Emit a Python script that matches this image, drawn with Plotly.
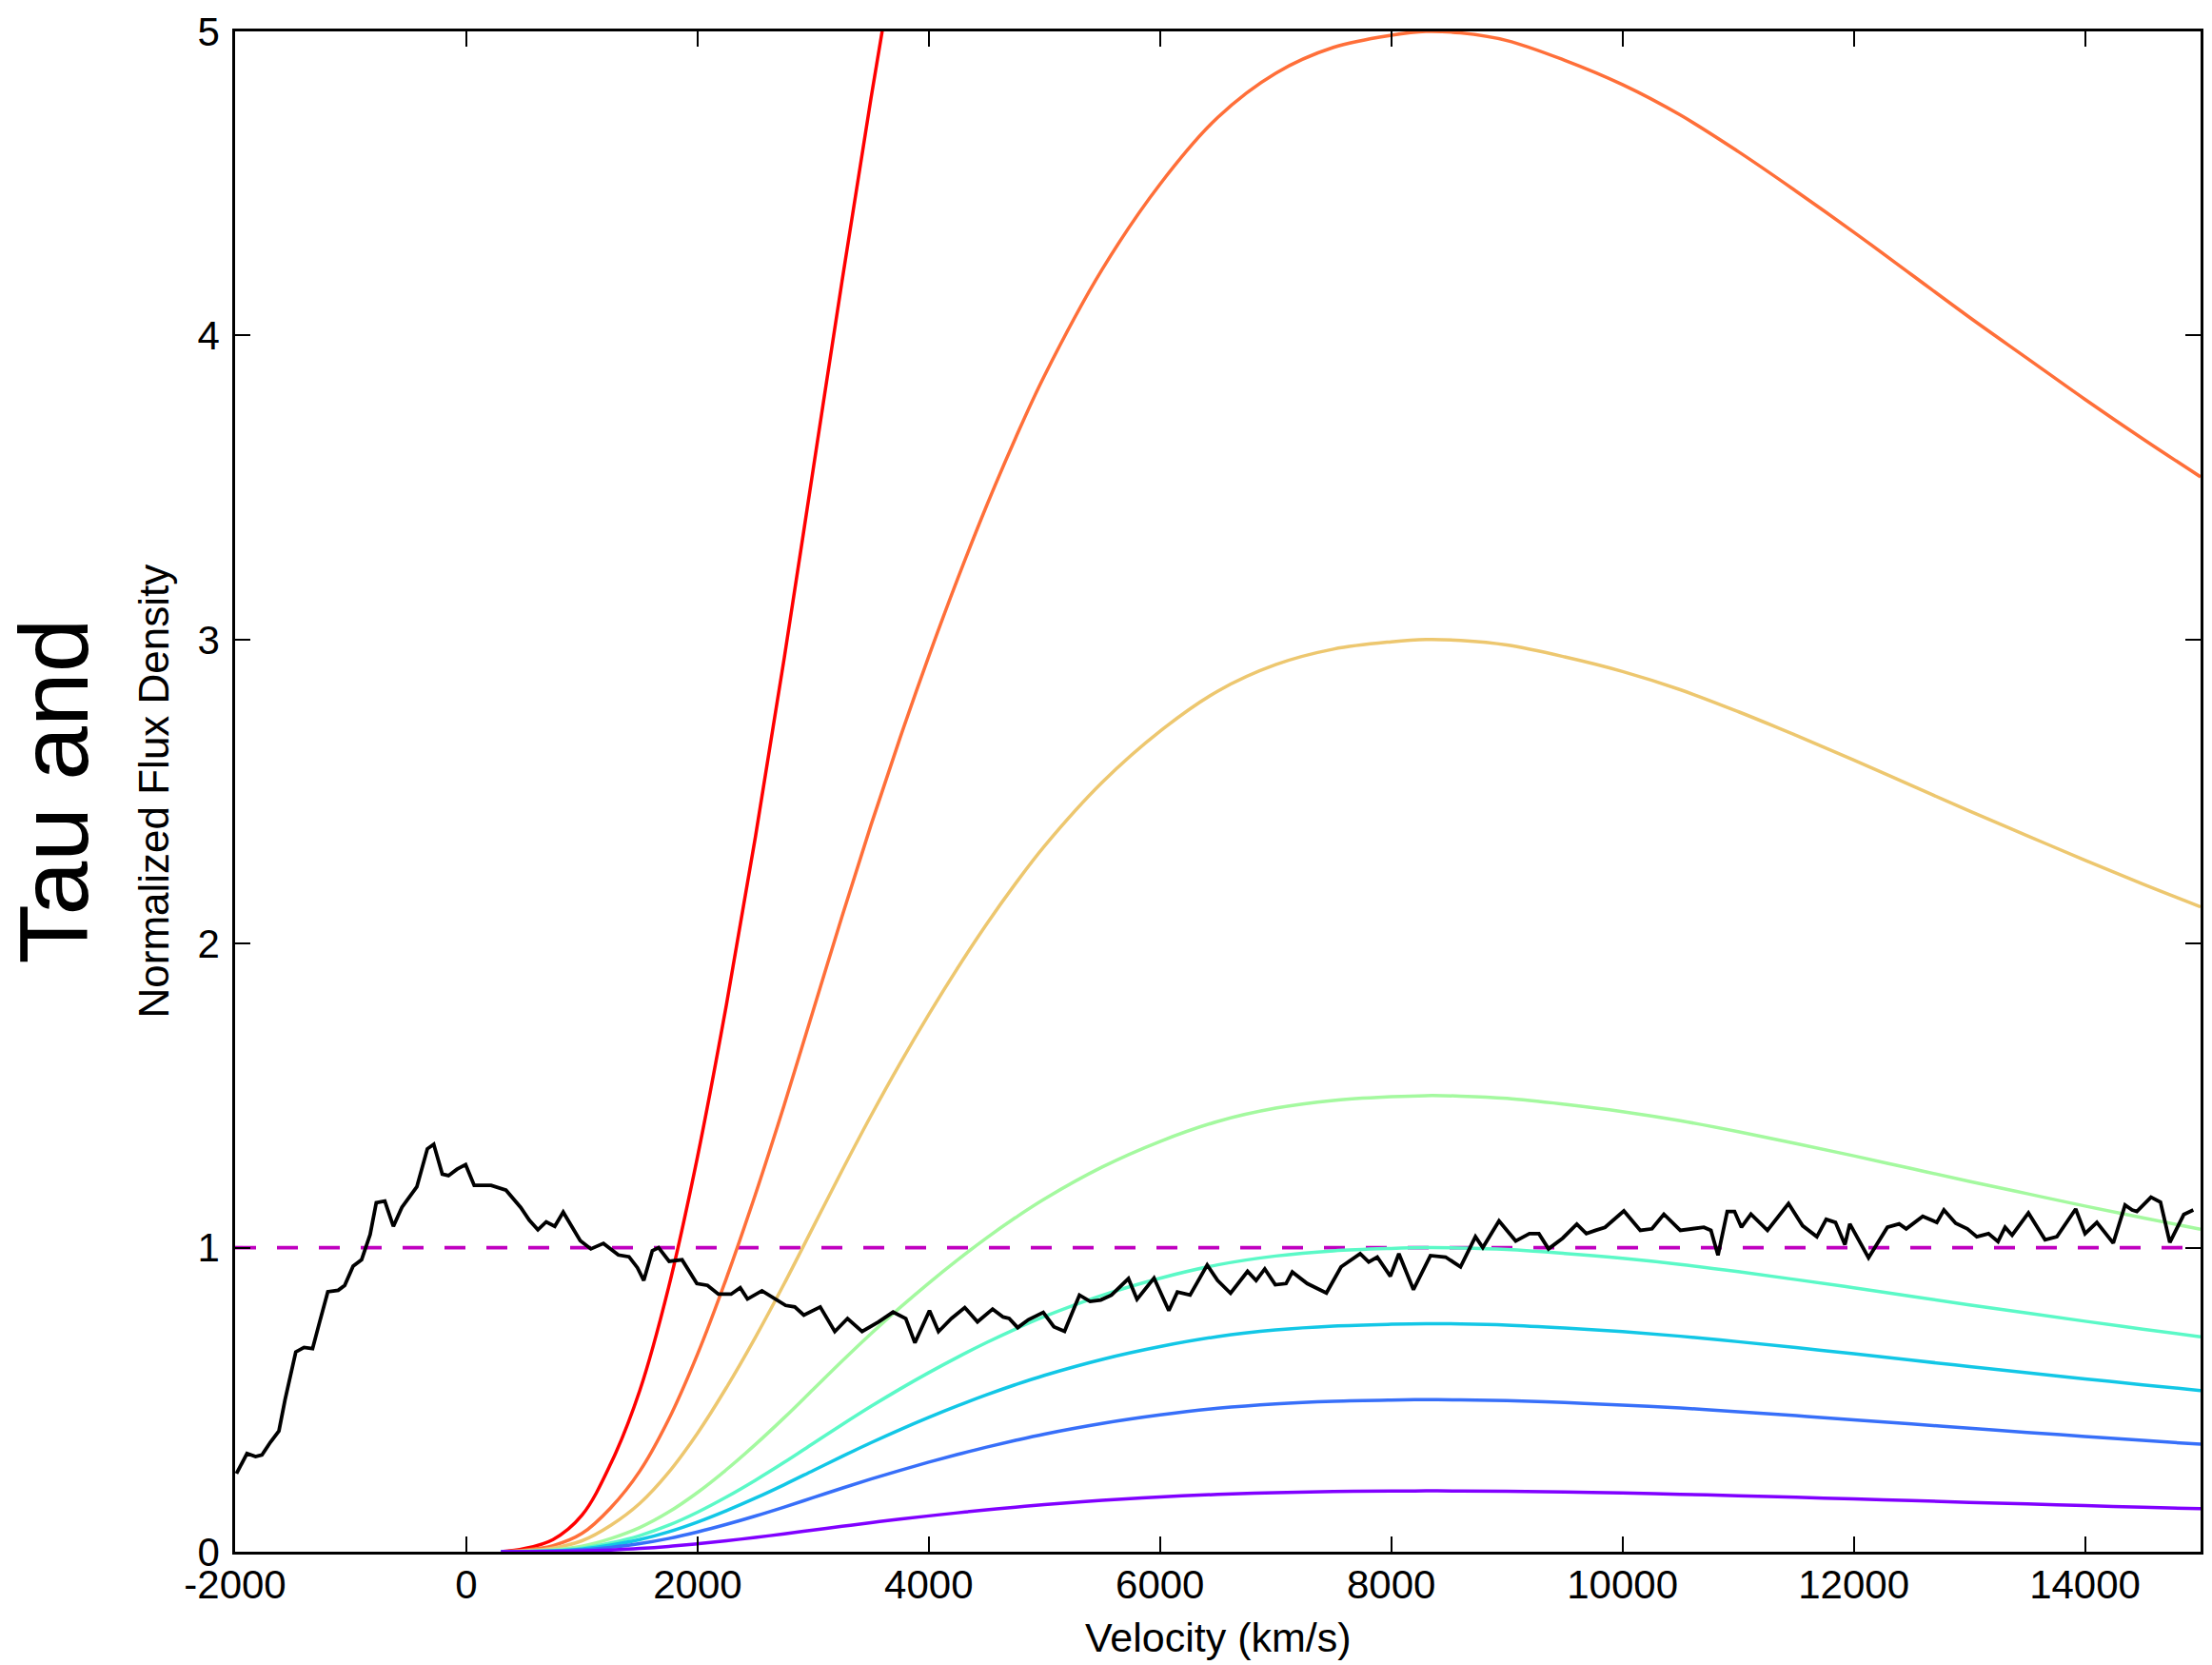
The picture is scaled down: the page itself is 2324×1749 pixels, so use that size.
import plotly.graph_objects as go

# ---------------- data ----------------
spectrum_velocity = [
    -1988, -1897, -1823, -1768, -1695, -1621, -1568, -1475, -1404, -1330,
    -1272, -1198, -1108, -1052, -979, -906, -832, -779, -705, -631,
    -557, -428, -337, -282, -208, -154, -80, -6, 68, 214,
    343, 471, 545, 619, 691, 765, 838, 911, 985, 1077,
    1186, 1315, 1407, 1480, 1535, 1609, 1663, 1754, 1866, 1994,
    2086, 2180, 2290, 2369, 2432, 2557, 2668, 2762, 2841, 2919,
    3061, 3187, 3297, 3423, 3565, 3691, 3801, 3880, 4006, 4084,
    4196, 4311, 4421, 4552, 4643, 4695, 4769, 4861, 4990, 5082,
    5174, 5303, 5395, 5487, 5580, 5727, 5801, 5948, 6076, 6150,
    6260, 6408, 6498, 6610, 6757, 6831, 6906, 6997, 7090, 7144,
    7273, 7439, 7566, 7731, 7805, 7879, 7992, 8066, 8192, 8339,
    8470, 8599, 8728, 8792, 8932, 9076, 9195, 9277, 9360, 9482,
    9605, 9687, 9768, 9849, 10012, 10154, 10255, 10358, 10500, 10601,
    10704, 10765, 10826, 10906, 10969, 11029, 11111, 11254, 11436, 11558,
    11681, 11762, 11842, 11924, 11966, 12128, 12291, 12393, 12454, 12597,
    12719, 12780, 12882, 12983, 13065, 13166, 13248, 13309, 13370, 13511,
    13655, 13757, 13920, 14001, 14103, 14245, 14347, 14408, 14449, 14571,
    14653, 14734, 14855, 14937,
]
spectrum_flux = [
    0.257, 0.323, 0.313, 0.318, 0.360, 0.397, 0.500, 0.657, 0.672, 0.668,
    0.751, 0.855, 0.860, 0.876, 0.939, 0.960, 1.043, 1.148, 1.153, 1.070,
    1.133, 1.200, 1.325, 1.340, 1.242, 1.237, 1.258, 1.273, 1.205, 1.205,
    1.189, 1.132, 1.090, 1.059, 1.085, 1.070, 1.117, 1.070, 1.023, 0.996,
    1.014, 0.976, 0.970, 0.934, 0.892, 0.990, 1.000, 0.955, 0.960, 0.882,
    0.876, 0.847, 0.847, 0.868, 0.831, 0.858, 0.831, 0.810, 0.805, 0.778,
    0.805, 0.724, 0.767, 0.724, 0.756, 0.788, 0.767, 0.687, 0.793, 0.724,
    0.767, 0.803, 0.756, 0.798, 0.772, 0.767, 0.737, 0.763, 0.787, 0.740,
    0.725, 0.844, 0.823, 0.828, 0.844, 0.898, 0.830, 0.900, 0.793, 0.854,
    0.844, 0.943, 0.892, 0.850, 0.922, 0.892, 0.930, 0.878, 0.882, 0.920,
    0.882, 0.851, 0.937, 0.980, 0.953, 0.969, 0.906, 0.980, 0.862, 0.974,
    0.969, 0.937, 1.036, 1.000, 1.088, 1.022, 1.046, 1.046, 0.996, 1.031,
    1.077, 1.046, 1.057, 1.067, 1.121, 1.057, 1.062, 1.110, 1.057, 1.062,
    1.067, 1.057, 0.975, 1.119, 1.119, 1.067, 1.110, 1.057, 1.145, 1.072,
    1.036, 1.093, 1.083, 1.010, 1.078, 0.967, 1.067, 1.078, 1.062, 1.103,
    1.083, 1.124, 1.080, 1.062, 1.036, 1.046, 1.020, 1.067, 1.041, 1.114,
    1.026, 1.036, 1.127, 1.046, 1.083, 1.015, 1.140, 1.124, 1.119, 1.166,
    1.150, 1.017, 1.109, 1.124,
]

# normalised optical-depth profile (shape shared by all tau curves)
tau_profile_velocity = [
    300, 500, 750, 1000, 1250, 1500, 1750, 2000, 2250, 2500,
    2750, 3000, 3250, 3500, 3750, 4000, 4250, 4500, 4750, 5000,
    5500, 6000, 6500, 7000, 7500, 8000, 8300, 8600, 9000, 9500,
    10000, 10500, 11000, 11500, 12000, 12500, 13000, 13500, 14000, 14500,
    15000,
]
tau_profile = [
    0.0, 0.001, 0.004, 0.012, 0.029, 0.053, 0.087, 0.130, 0.180, 0.235,
    0.294, 0.356, 0.418, 0.478, 0.535, 0.589, 0.640, 0.688, 0.7325, 0.7735,
    0.8435, 0.8995, 0.9435, 0.9725, 0.9895, 0.9975, 1.000, 0.999, 0.994, 0.981,
    0.965, 0.945, 0.921, 0.895, 0.868, 0.840, 0.812, 0.785, 0.758, 0.732,
    0.707,
]
tau_peaks = [10, 5, 3, 1.5, 1.0, 0.75, 0.5, 0.2]

continuum_level = 1.0

x_tick_values = [-2000, 0, 2000, 4000, 6000, 8000, 10000, 12000, 14000]
x_tick_labels = ["-2000", "0", "2000", "4000", "6000", "8000", "10000", "12000", "14000"]
y_tick_values = [0, 1, 2, 3, 4, 5]
y_tick_labels = ["0", "1", "2", "3", "4", "5"]

# ---------------- styling ----------------
tau_colors = ["#ff0000", "#ff6f39", "#edc76f", "#a4f99f", "#5bf9c7", "#12c7e6", "#376ff9", "#8000ff"]
FONT = "Liberation Sans, Arial, Helvetica, sans-serif"
BIG = "Liberation Sans Narrow, Arial Narrow, Liberation Sans, Arial, sans-serif"

fig = go.Figure()

for peak, color in zip(tau_peaks, tau_colors):
    fig.add_trace(go.Scatter(
        x=tau_profile_velocity,
        y=[peak * p for p in tau_profile],
        mode="lines",
        line=dict(color=color, width=3.5, shape="spline", smoothing=1.0),
        hoverinfo="skip",
    ))

fig.add_trace(go.Scatter(
    x=spectrum_velocity,
    y=spectrum_flux,
    mode="lines",
    line=dict(color="black", width=3.8),
    hoverinfo="skip",
))

fig.add_hline(y=continuum_level, line=dict(color="#c000c0", width=3.8, dash="22px,22px"), layer="below")

axis_common = dict(
    showgrid=False,
    zeroline=False,
    showline=True,
    linecolor="black",
    linewidth=2.5,
    mirror="ticks",
    ticks="inside",
    ticklen=16,
    tickwidth=2,
    tickcolor="black",
    tickfont=dict(family=FONT, size=42, color="black"),
)

fig.update_layout(
    width=2324,
    height=1749,
    margin=dict(l=247, r=9, t=33, b=119),
    paper_bgcolor="white",
    plot_bgcolor="white",
    showlegend=False,
    xaxis=dict(range=[-2000, 15000], tickmode="array", tickvals=x_tick_values,
               ticktext=x_tick_labels, ticklabelstandoff=-4, **axis_common),
    yaxis=dict(range=[0, 5], tickmode="array", tickvals=y_tick_values,
               ticktext=y_tick_labels, ticklabelstandoff=5, **axis_common),
    annotations=[
        dict(text="Velocity (km/s)", xref="paper", yref="paper", x=0.5, y=0,
             xanchor="center", yanchor="middle", yshift=-90, showarrow=False,
             font=dict(family=FONT, size=43, color="black")),
        dict(text="Normalized Flux Density", xref="paper", yref="paper", x=0, y=0.5,
             xanchor="center", yanchor="middle", xshift=-86, textangle=-90, showarrow=False,
             font=dict(family=FONT, size=44, color="black")),
        dict(text="Tau and", xref="paper", yref="paper", x=0, y=0.5,
             xanchor="center", yanchor="middle", xshift=-191, textangle=-90, showarrow=False,
             font=dict(family=BIG, size=102, color="black")),
    ],
)

fig.write_html("out.html")
